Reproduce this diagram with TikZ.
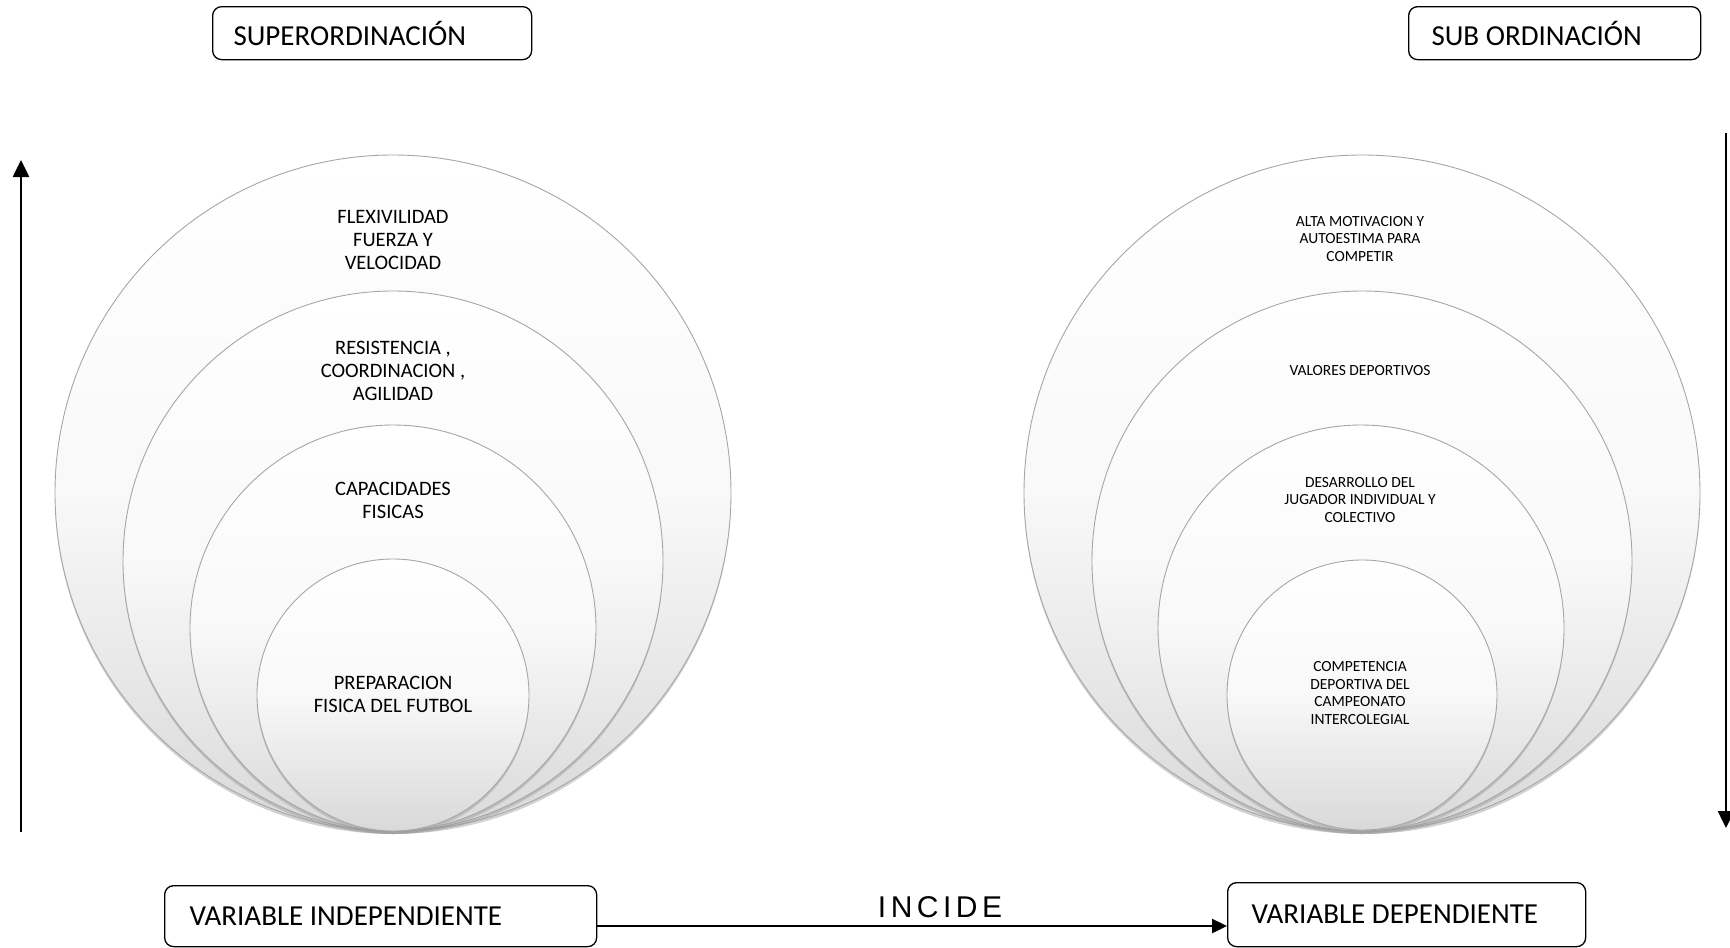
\documentclass[tikz,border=0pt]{standalone}
\usepackage{fontspec}
\setmainfont{Carlito}
\newfontfamily\arialf[LetterSpace=15]{Liberation Sans}
\usetikzlibrary{shadows,arrows.meta}
\begin{document}
\begin{tikzpicture}[x=1pt,y=-1pt,
  lbox/.style={draw=black,line width=1.3pt,rounded corners=9pt,inner sep=0pt,anchor=north west,font=\fontsize{29}{33}\selectfont,align=left},
  disc/.style={circle,inner sep=0pt,draw=gray!70,line width=0.9pt,top color=white,bottom color=gray!30,middle color=gray!5,
    drop shadow={shadow xshift=0pt,shadow yshift=-3pt,opacity=0.45,fill=gray!80}},
  ltxt/.style={align=center,font=\fontsize{20.5}{23}\selectfont},
  rtxt/.style={align=center,font=\fontsize{15.5}{17.7}\selectfont},
  arr/.style={line width=2.6pt,-{Triangle[length=17pt,width=16pt]}}
]
\useasboundingbox (0,0) rectangle (1730,948);
% top boxes
\node[lbox,minimum width=319pt,minimum height=53pt] (sup) at (212,6) {};
\node[anchor=west,font=\fontsize{29}{33}\selectfont] at (230,33) {SUPERORDINACIÓN};
\node[lbox,minimum width=292pt,minimum height=53pt] (sub) at (1408,6) {};
\node[anchor=west,font=\fontsize{29}{33}\selectfont] at (1428,33) {SUB ORDINACIÓN};
% left circles
\node[disc,minimum size=676pt] (L1) at (393,493) {};
\node[disc,minimum size=540pt] (L2) at (393,561) {};
\node[disc,minimum size=406pt] (L3) at (393,628) {};
\node[disc,minimum size=272pt] (L4) at (393,695) {};
\node[ltxt] (t1) at (393,240) {FLEXIVILIDAD\\FUERZA Y\\VELOCIDAD};
\node[ltxt] (t2) at (393,371) {RESISTENCIA ,\\COORDINACION ,\\AGILIDAD};
\node[ltxt] (t3) at (393,500) {CAPACIDADES\\FISICAS};
\node[ltxt] (t4) at (393,694) {PREPARACION\\FISICA DEL FUTBOL};
% right circles
\node[disc,minimum size=676pt] (R1) at (1362,493) {};
\node[disc,minimum size=540pt] (R2) at (1362,561) {};
\node[disc,minimum size=406pt] (R3) at (1361,628) {};
\node[disc,minimum size=270pt] (R4) at (1362,695) {};
\node[rtxt] (u1) at (1360,239) {ALTA MOTIVACION Y\\AUTOESTIMA PARA\\COMPETIR};
\node[rtxt] (u2) at (1360,371) {VALORES DEPORTIVOS};
\node[rtxt] (u3) at (1360,500) {DESARROLLO DEL\\JUGADOR INDIVIDUAL Y\\COLECTIVO};
\node[rtxt] (u4) at (1360,693) {COMPETENCIA\\DEPORTIVA DEL\\CAMPEONATO\\INTERCOLEGIAL};
% vertical arrows
\coordinate (la0) at (21,832);
\coordinate (la1) at (21,160);
\draw[arr] (la0) -- (la1);
\coordinate (ra0) at (1726,133);
\coordinate (ra1) at (1726,828);
\draw[arr] (ra0) -- (ra1);
% bottom boxes
\node[lbox,minimum width=432pt,minimum height=61pt] (vi) at (164,885) {};
\node[anchor=west,font=\fontsize{29}{33}\selectfont] at (186,916) {VARIABLE INDEPENDIENTE};
\node[lbox,minimum width=358pt,minimum height=64pt] (vd) at (1227,882) {};
\node[anchor=west,font=\fontsize{29}{33}\selectfont] at (1248,914) {VARIABLE DEPENDIENTE};
\draw[line width=2.4pt,-{Triangle[length=15pt,width=14pt]}] (vi.east |- 0,926) -- (vd.west |- 0,926);
\node[font=\arialf\fontsize{30}{34}\selectfont] (inc) at (940,907) {INCIDE};
\end{tikzpicture}
\end{document}
